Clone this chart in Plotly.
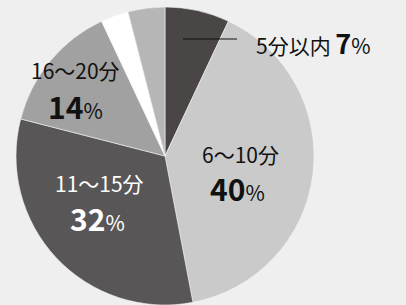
import plotly.graph_objects as go

labels = ["5分以内", "6〜10分", "11〜15分", "16〜20分", "その他A", "その他B"]
values = [7, 40, 32, 14, 3, 4]
colors = ["#4a4645", "#c9cac9", "#595657", "#a0a1a0", "#ffffff", "#b5b6b5"]

W, H = 406, 305
MT = 7

def px(x):
    return x / W

def py(y):
    return (H - y) / (H - MT)

fig = go.Figure(go.Pie(
    labels=labels, values=values, sort=False, direction="clockwise", rotation=0,
    marker=dict(colors=colors, line=dict(color="#f4f4f4", width=0.6)),
    textinfo="none", hoverinfo="skip", showlegend=False,
    domain=dict(x=[16 / W, 314 / W], y=[0, 1]),
))

FONT = "Noto Sans CJK JP"

def ann(x, y, text, color="#111111", size=21):
    fig.add_annotation(x=px(x), y=py(y), xref="paper", yref="paper", text=text,
                       showarrow=False, xanchor="center", yanchor="middle",
                       font=dict(family=FONT, size=size, color=color))

def pct(num, bsize=30, psize=21):
    return f"<span style='font-size:{bsize}px'><b>{num}</b></span><span style='font-size:{psize}px'>%</span>"

# 5分以内 (outside with leader line)
fig.add_annotation(x=px(254), y=py(42), xref="paper", yref="paper",
                   text="5分以内 " + pct(values[0], 27, 21), showarrow=False,
                   xanchor="left", yanchor="middle",
                   font=dict(family=FONT, size=21, color="#111111"))
fig.add_shape(type="line", xref="paper", yref="paper",
              x0=px(183), x1=px(237), y0=py(39), y1=py(39),
              line=dict(color="#111111", width=1))

ann(240, 154, labels[1])
ann(238, 188, pct(values[1]))
ann(99, 183, labels[2], color="#ffffff")
ann(97, 218, pct(values[2]), color="#ffffff")
ann(75, 70, labels[3])
ann(75, 106, pct(values[3]))

fig.update_layout(width=W, height=H, margin=dict(l=0, r=0, t=MT, b=0),
                  paper_bgcolor="#efefef", plot_bgcolor="#efefef")

fig.write_html("out.html", config={"displayModeBar": False},
               post_script="document.body.style.margin='0';document.body.style.background='#efefef';")
